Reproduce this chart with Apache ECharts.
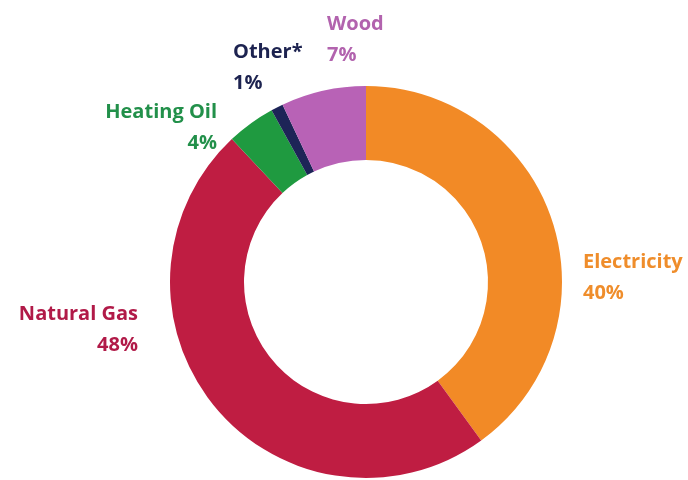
<!DOCTYPE html>
<html>
<head>
<meta charset="utf-8">
<script src="https://cdn.jsdelivr.net/npm/echarts@6/dist/echarts.min.js"></script>
<style>
  html, body { margin: 0; padding: 0; background: #fff; }
  #main { width: 688px; height: 480px; }
</style>
</head>
<body>
<div id="main"></div>
<script>
// heating fuel shares
var categories = ['Electricity', 'Natural Gas', 'Heating Oil', 'Other*', 'Wood'];
var shares = [40, 48, 4, 1, 7];

var sliceColors = ['#f28a26', '#bf1d42', '#1f9a40', '#1d2457', '#b862b6'];
var labelColors = ['#ef8d2b', '#b11a48', '#22904a', '#1d2350', '#b263ae'];
// label anchor per slice: [x, y, align]
var labelPos = [
	[583, 278, 'left'],
	[138, 330, 'right'],
	[217, 128, 'right'],
	[233, 68, 'left'],
	[327, 40, 'left']
];

var myChart = echarts.init(document.getElementById('main'));
var pieData = categories.map(function (name, i) {
	return {
		name: name,
		value: shares[i],
		itemStyle: { color: sliceColors[i] },
		label: { color: labelColors[i], align: labelPos[i][2] }
	};
});

var option = {
	animation: false,
	series: [{
		type: 'pie',
		center: [366, 282],
		radius: [122, 196],
		startAngle: 90,
		clockwise: true,
		avoidLabelOverlap: false,
		itemStyle: { borderWidth: 0 },
		label: {
			show: true,
			position: 'outside',
			formatter: '{b}\n{c}%',
			fontFamily: 'Open Sans',
			fontWeight: 'bold',
			fontSize: 20,
			lineHeight: 31
		},
		labelLine: { show: false },
		labelLayout: function (params) {
			var p = labelPos[params.dataIndex];
			return { x: p[0], y: p[1], align: p[2], verticalAlign: 'middle' };
		},
		data: pieData
	}]
};
myChart.setOption(option);
</script>
</body>
</html>
